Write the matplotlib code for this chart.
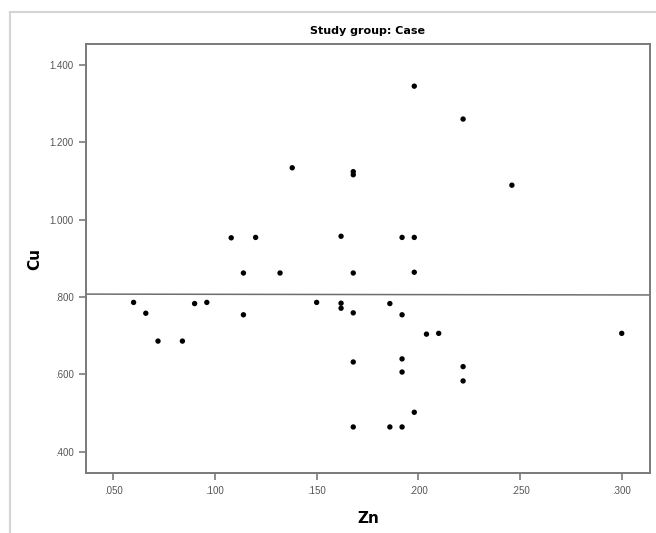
import matplotlib
matplotlib.use("Agg")
import matplotlib.pyplot as plt
from matplotlib.lines import Line2D
from matplotlib.ticker import FuncFormatter
import numpy as np

## Zn / Cu values (Study group: Case)
zn = [0.060, 0.066, 0.072, 0.084, 0.090, 0.096, 0.108, 0.114, 0.114, 0.120,
      0.132, 0.138, 0.150, 0.162, 0.162, 0.162, 0.168, 0.168, 0.168, 0.168,
      0.168, 0.168, 0.186, 0.186, 0.192, 0.192, 0.192, 0.192, 0.192, 0.198,
      0.198, 0.198, 0.198, 0.204, 0.210, 0.222, 0.222, 0.222, 0.246, 0.300]
cu = [0.786, 0.758, 0.686, 0.686, 0.783, 0.786, 0.953, 0.754, 0.862, 0.954,
      0.862, 1.134, 0.786, 0.957, 0.784, 0.771, 1.124, 1.116, 0.862, 0.759,
      0.632, 0.464, 0.783, 0.464, 0.954, 0.754, 0.640, 0.606, 0.464, 1.345,
      0.954, 0.864, 0.502, 0.704, 0.706, 1.260, 0.620, 0.583, 1.089, 0.706]

x_ticks = [0.050, 0.100, 0.150, 0.200, 0.250, 0.300]
y_ticks = [0.400, 0.600, 0.800, 1.000, 1.200, 1.400]

def spss_fmt(v, pos):
    s = '%.3f' % v
    if s.startswith('0'):
        s = s[1:]
    return s

fig = plt.figure(figsize=(6.56, 5.33), dpi=100)
fig.patch.set_facecolor('white')

# light outer frame of the output viewer
fx = 10 / 656
fy = 1 - 12 / 533
fig.add_artist(Line2D([fx, fx], [0, fy], transform=fig.transFigure, color='#d4d4d4', lw=1.5))
fig.add_artist(Line2D([fx, 1], [fy, fy], transform=fig.transFigure, color='#d4d4d4', lw=1.5))

ax = fig.add_axes([86 / 656, 60 / 533, 564 / 656, 429 / 533])
ax.scatter(zn, cu, s=15, color='black', edgecolors='none', zorder=3)

# linear fit line across the whole x range
xlim = (0.0366, 0.3139)
b, a = np.polyfit(zn, cu, 1)
xs = np.array(xlim)
ax.plot(xs, a + b * xs, color='#6e6e6e', lw=1.1, zorder=2)

ax.set_xlim(xlim)
ax.set_ylim(0.345, 1.454)
ax.set_xticks(x_ticks)
ax.set_yticks(y_ticks)
ax.xaxis.set_major_formatter(FuncFormatter(spss_fmt))
ax.yaxis.set_major_formatter(FuncFormatter(spss_fmt))

for sp in ax.spines.values():
    sp.set_color('#7a7a7a')
    sp.set_linewidth(1.4)
ax.tick_params(direction='out', length=5, width=1.2, color='#7a7a7a',
               labelsize=7, labelcolor='#555555', pad=4,
               labelfontfamily='Liberation Sans')

ax.set_xlabel('Zn', fontsize=11, fontweight='bold', labelpad=11)
ax.set_ylabel('Cu', fontsize=11, fontweight='bold', labelpad=5)
ax.set_title('Study group: Case', fontsize=8, fontweight='bold', pad=7)

fig.savefig('out.png', dpi=100)
